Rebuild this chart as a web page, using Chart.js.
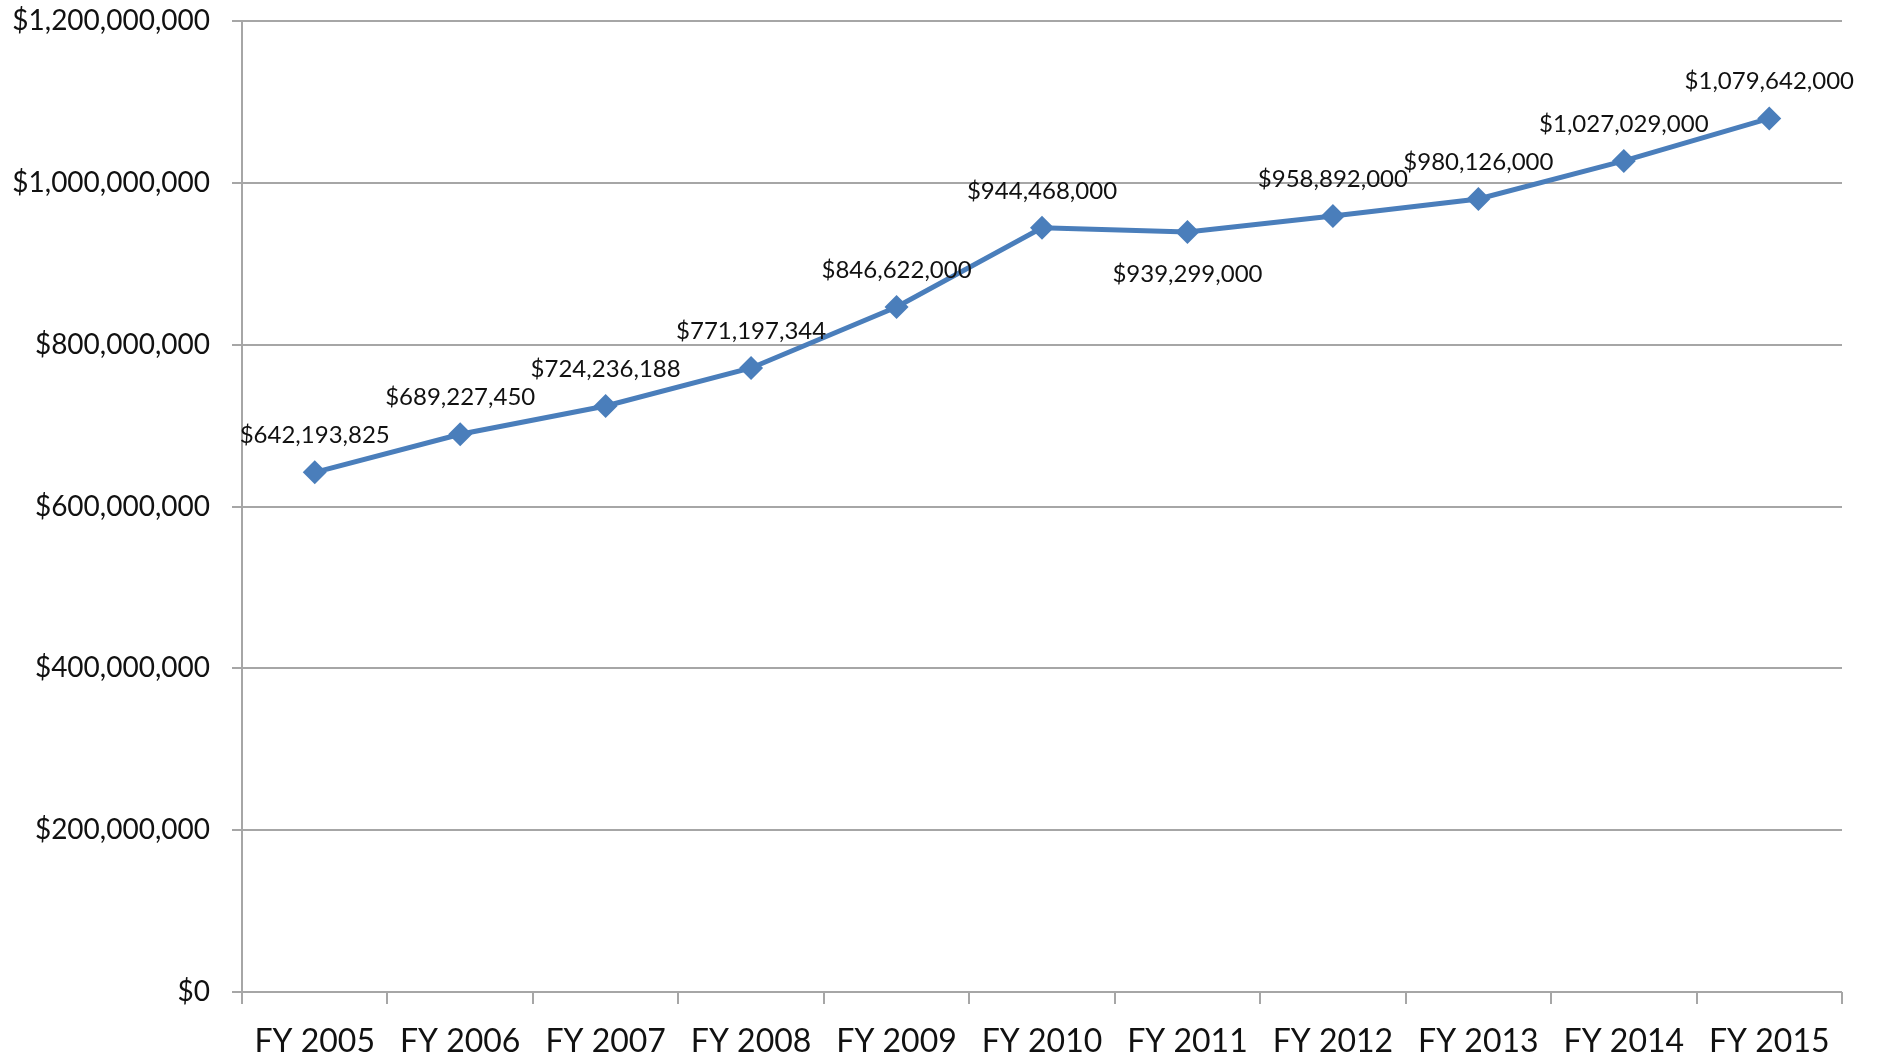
<!DOCTYPE html>
<html>
<head>
<meta charset="utf-8">
<script src="https://cdn.jsdelivr.net/npm/chart.js@4/dist/chart.umd.min.js"></script>
<style>
  html, body { margin: 0; padding: 0; background: #fff; }
  #wrap { width: 1877px; height: 1058px; }
</style>
</head>
<body>
<div id="wrap"><canvas id="chart" width="1877" height="1058"></canvas></div>
<script>
// fiscal years and total appropriations
var years = ["FY 2005", "FY 2006", "FY 2007", "FY 2008", "FY 2009", "FY 2010",
             "FY 2011", "FY 2012", "FY 2013", "FY 2014", "FY 2015"];
var amounts = [642193825, 689227450, 724236188, 771197344, 846622000, 944468000,
               939299000, 958892000, 980126000, 1027029000, 1079642000];
var yTicks = [0, 200000000, 400000000, 600000000, 800000000, 1000000000, 1200000000];
var labelsBelow = ["FY 2011"];

var BLUE = "#4a7ebb";
var GRID = "#a6a6a6";
var FONT = "Lato, 'Open Sans', sans-serif";

function money(n) {
  return "$" + Number(n).toLocaleString("en-US");
}

// draws the value above (or below) each point, like the Excel data labels
var pointLabels = {
  id: "pointLabels",
  afterDatasetsDraw: function (chart) {
    var ctx = chart.ctx;
    var meta = chart.getDatasetMeta(0);
    ctx.save();
    ctx.font = "24px " + FONT;
    ctx.fillStyle = "#111";
    ctx.textAlign = "center";
    ctx.textBaseline = "alphabetic";
    meta.data.forEach(function (pt, i) {
      var below = labelsBelow.indexOf(years[i]) >= 0;
      ctx.fillText(money(amounts[i]), pt.x, below ? pt.y + 50 : pt.y - 29);
    });
    ctx.restore();
  }
};

new Chart(document.getElementById("chart").getContext("2d"), {
  type: "line",
  data: {
    labels: years,
    datasets: [{
      data: amounts,
      borderColor: BLUE,
      backgroundColor: BLUE,
      borderWidth: 5,
      pointStyle: "rectRot",
      pointRadius: 12,
      pointBorderWidth: 0,
      pointBackgroundColor: BLUE,
      tension: 0,
      fill: false
    }]
  },
  options: {
    responsive: false,
    devicePixelRatio: 1,
    animation: false,
    layout: { padding: { top: 21, right: 35, left: 0, bottom: 0 } },
    plugins: {
      legend: { display: false },
      tooltip: { enabled: false }
    },
    scales: {
      x: {
        offset: true,
        grid: { offset: true, drawOnChartArea: false, drawTicks: true, tickLength: 12, color: GRID, lineWidth: 2 },
        border: { display: false },
        ticks: {
          autoSkip: false, maxRotation: 0, minRotation: 0,
          color: "#111", padding: 18,
          font: { family: FONT, size: 32 }
        },
        afterFit: function (s) { s.height = 66; }
      },
      y: {
        min: 0,
        max: 1200000000,
        afterBuildTicks: function (s) {
          s.ticks = yTicks.map(function (v) { return { value: v }; });
        },
        grid: { color: GRID, lineWidth: 2, tickLength: 10 },
        border: { display: true, color: GRID, width: 2 },
        ticks: {
          color: "#111", padding: 22,
          font: { family: FONT, size: 28 },
          callback: function (v) { return money(v); }
        },
        afterFit: function (s) {
          s.width = 242;
          s.paddingTop = 0;
          s.paddingBottom = 0;
        }
      }
    }
  },
  plugins: [pointLabels]
});
</script>
</body>
</html>
